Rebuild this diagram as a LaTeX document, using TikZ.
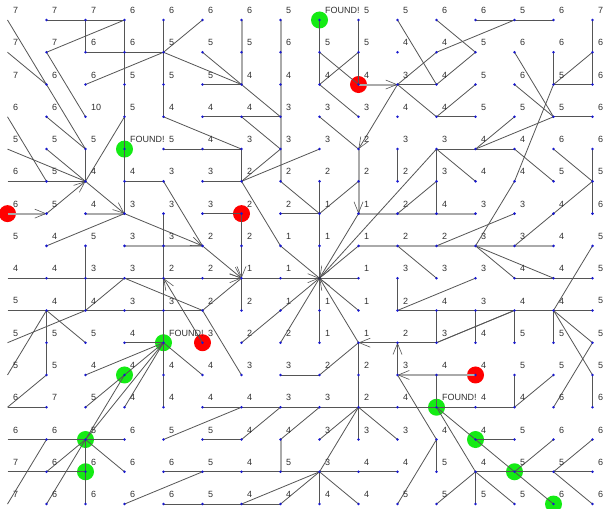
\documentclass[tikz,border=0pt]{standalone}
\usepackage{fontspec}
\setmainfont{Liberation Sans}
\usetikzlibrary{arrows.meta}
\definecolor{ln}{RGB}{85,85,85}
\definecolor{lt}{RGB}{170,170,170}
\definecolor{dotc}{RGB}{25,25,205}
\definecolor{redc}{RGB}{255,0,0}
\definecolor{grnc}{RGB}{20,235,20}
\definecolor{txt}{RGB}{50,50,50}
\tikzset{
  edge/.style={draw=ln, line width=0.8pt},
  lite/.style={draw=lt, line width=2pt},
  arr/.style={-{Straight Barb[length=11pt,width=9pt,line width=0.6pt,color=ln]}},
  lab/.style={anchor=west, inner sep=0pt, xshift=5.5pt, yshift=9.5pt, text=txt, font=\fontsize{9}{10}\selectfont},
}
\begin{document}
\begin{tikzpicture}[x=1pt,y=-1pt]
\useasboundingbox (0,0) rectangle (609,508);
\clip (0,0) rectangle (609,508);
\fill[white] (0,0) rectangle (609,508);
\foreach \c in {0,...,15}{\foreach \r in {0,...,15}{
  \coordinate (p\c-\r) at ({7.5+39*\c},{20+32.27*\r});}}
% circles
\foreach \p in {p8-0,p3-4,p4-10,p3-11,p2-13,p2-14,p11-12,p12-13,p13-14,p14-15}
  \fill[grnc] (\p) circle (8.5pt);
\foreach \p in {p9-2,p0-6,p6-6,p5-10,p12-11}
  \fill[redc] (\p) circle (8.5pt);
% light thick lines
\draw[lite] (p6-0) -- (p6-2);
\draw[lite] (p7-0) -- (p7-5);
\draw[lite] (p2-6) -- (p3-6);
\draw[lite] (p3-7) -- (p5-7);
\draw[lite] (p9-6) -- (p12-6);
\draw[lite] (p9-7) -- (p14-7);
\draw[lite] (p7-13) -- (p7-14);
\draw[lite,arr] (p9-2) -- (p10-2);
\draw[lite,arr] (p9-4) -- (p9-6);
\draw[lite,arr] (p0-6) -- (p1-6);
\draw[lite,arr] (p12-11) -- (p10-11);
% top left
\draw[edge] (p1-0) -- (p3-0);
\draw[edge] (p2-0) -- (p2-1);
\draw[edge] (p2-1) -- (p4-1);
\draw[edge] (p3-0) -- (p3-6);
\draw[edge] (p1-1) -- (p3-0);
\draw[edge] (p4-1) -- (p5-0);
\draw[edge] (p4-0) -- (p4-3);
\draw[edge] (p4-1) -- (p6-2);
\draw[edge] (p2-2) -- (p4-1);
\draw[edge] (p1-1) -- (p2-3);
\draw[edge] (p0-0) -- (p2-4);
\draw[edge] (p0-1) -- (p1-2);
\draw[edge] (p0-3) -- (p1-5);
\draw[edge] (p1-3) -- (p2-4);
\draw[edge] (p3-3) -- (p2-5);
\draw[edge] (p4-3) -- (p6-4);
\draw[edge] (p4-4) -- (p6-4);
% top middle
\draw[edge] (p5-1) -- (p6-2);
\draw[edge] (p5-2) -- (p6-2);
\draw[edge] (p6-2) -- (p7-3);
\draw[edge] (p5-3) -- (p7-3);
\draw[edge] (p6-3) -- (p7-4);
\draw[edge] (p6-4) -- (p6-5);
\draw[edge] (p7-4) -- (p6-5);
\draw[edge] (p8-4) -- (p6-5);
\draw[edge] (p8-0) -- (p8-2);
\draw[edge] (p8-1) -- (p9-2);
\draw[edge] (p8-2) -- (p9-1);
\draw[edge] (p9-0) -- (p9-2);
\draw[edge] (p8-2) -- (p9-3);
\draw[edge] (p8-3) -- (p9-4);
\draw[edge,arr] (p10-2) -- (p9-4);
% top right
\draw[edge] (p12-0) -- (p14-0);
\draw[edge] (p11-1) -- (p13-0);
\draw[edge] (p11-0) -- (p12-1);
\draw[edge] (p12-1) -- (p11-2);
\draw[edge] (p10-0) -- (p11-2);
\draw[edge] (p10-2) -- (p11-2);
\draw[edge] (p10-2) -- (p11-1);
\draw[edge] (p10-2) -- (p11-3);
\draw[edge] (p11-3) -- (p12-3);
\draw[edge] (p11-3) -- (p12-2);
\draw[edge] (p13-1) -- (p14-3);
\draw[edge] (p13-2) -- (p14-3);
\draw[edge] (p14-3) -- (p15-3);
\draw[edge] (p14-1) -- (p14-2);
\draw[edge] (p14-2) -- (p15-2);
\draw[edge] (p14-2) -- (p15-1);
\draw[edge] (p15-0) -- (p15-2);
\draw[edge] (p14-2) -- (p13-5);
\draw[edge] (p13-5) -- (p12-7);
\draw[edge] (p11-4) -- (p13-4);
\draw[edge] (p12-4) -- (p13-3);
\draw[edge] (p12-4) -- (p14-3);
\draw[edge] (p13-4) -- (p14-5);
\draw[edge] (p14-4) -- (p15-5);
\draw[edge] (p15-4) -- (p15-6);
\draw[edge] (p11-4) -- (p11-6);
\draw[edge] (p11-4) -- (p12-5);
\draw[edge] (p10-4) -- (p10-5);
% middle left
\draw[edge] (p0-5) -- (p2-5);
\draw[edge] (p2-4) -- (p2-5);
\draw[edge] (p0-4) -- (p2-5);
\draw[edge] (p1-4) -- (p2-5);
\draw[edge,arr] (p1-6) -- (p2-5);
\draw[edge,arr] (p2-5) -- (p3-6);
\draw[edge] (p1-7) -- (p3-6);
\draw[edge] (p3-5) -- (p4-5);
\draw[edge] (p4-5) -- (p5-7);
\draw[edge,arr] (p3-6) -- (p5-7);
\draw[edge,arr] (p5-7) -- (p6-8);
\draw[edge] (p4-6) -- (p4-12);
\draw[edge] (p2-7) -- (p2-9);
\draw[edge] (p0-8) -- (p4-8);
\draw[edge,arr] (p4-8) -- (p6-8);
\draw[edge,arr] (p6-8) -- (p8-8);
\draw[edge] (p8-8) -- (p9-8);
\draw[edge] (p0-9) -- (p5-9);
\draw[edge] (p3-8) -- (p2-9);
\draw[edge] (p3-8) -- (p5-9);
\draw[edge] (p5-9) -- (p6-8);
\draw[edge] (p5-9) -- (p6-11);
\draw[edge,arr] (p5-10) -- (p4-8);
\draw[edge] (p1-9) -- (p1-11);
\draw[edge] (p1-9) -- (p0-11);
\draw[edge] (p1-9) -- (p2-10);
\draw[edge] (p2-9) -- (p0-10);
% middle
\draw[edge] (p5-5) -- (p6-5);
\draw[edge] (p6-5) -- (p7-7);
\draw[edge] (p7-7) -- (p8-8);
\draw[edge] (p7-5) -- (p8-6);
\draw[edge] (p8-5) -- (p8-10);
\draw[edge] (p8-6) -- (p9-5);
\draw[edge] (p7-6) -- (p8-6);
\draw[edge] (p10-6) -- (p11-5);
\draw[edge] (p8-8) -- (p11-4);
\draw[edge] (p8-8) -- (p9-7);
\draw[edge,arr] (p9-6) -- (p8-8);
\draw[edge] (p10-7) -- (p11-8);
\draw[edge] (p10-8) -- (p10-9);
\draw[edge] (p10-9) -- (p12-8);
\draw[edge] (p8-8) -- (p9-9);
\draw[edge] (p8-8) -- (p6-10);
\draw[edge] (p8-8) -- (p7-10);
\draw[edge,arr] (p9-10) -- (p8-8);
\draw[edge] (p5-6) -- (p6-6);
\draw[edge,arr] (p6-6) -- (p6-8);
\draw[edge] (p6-8) -- (p6-9);
% middle right
\draw[edge] (p11-7) -- (p13-6);
\draw[edge] (p12-7) -- (p13-8);
\draw[edge] (p12-7) -- (p14-8);
\draw[edge] (p13-8) -- (p15-8);
\draw[edge] (p15-5) -- (p13-7);
\draw[edge] (p15-7) -- (p14-9);
\draw[edge] (p10-9) -- (p15-9);
\draw[edge] (p11-9) -- (p11-10);
\draw[edge] (p12-9) -- (p12-10);
\draw[edge] (p13-9) -- (p13-10);
\draw[edge] (p14-9) -- (p14-10);
\draw[edge] (p13-9) -- (p11-10);
\draw[edge] (p14-9) -- (p15-10);
\draw[edge] (p14-9) -- (p15-11);
\draw[edge] (p15-10) -- (p14-12);
\draw[edge] (p15-11) -- (p15-12);
% bottom left
\draw[edge] (p3-10) -- (p4-10);
\draw[edge] (p4-10) -- (p2-11);
\draw[edge] (p4-10) -- (p3-11);
\draw[edge] (p4-10) -- (p3-12);
\draw[edge] (p4-10) -- (p2-13);
\draw[edge] (p4-10) -- (p5-11);
\draw[edge] (p3-11) -- (p2-12);
\draw[edge] (p3-11) -- (p2-13);
\draw[edge] (p1-11) -- (p0-12);
\draw[edge] (p0-12) -- (p1-12);
\draw[edge] (p0-13) -- (p3-13);
\draw[edge] (p2-13) -- (p2-15);
\draw[edge] (p2-13) -- (p1-14);
\draw[edge] (p2-13) -- (p1-15);
\draw[edge] (p2-13) -- (p3-14);
\draw[edge] (p0-14) -- (p2-14);
\draw[edge] (p1-13) -- (p0-15);
\draw[edge] (p4-13) -- (p6-12);
\draw[edge] (p3-15) -- (p5-14);
\draw[edge] (p4-15) -- (p7-15);
% bottom middle
\draw[edge] (p9-10) -- (p9-12);
\draw[edge] (p9-10) -- (p8-11);
\draw[edge] (p7-11) -- (p8-11);
\draw[edge] (p5-12) -- (p13-12);
\draw[edge] (p6-13) -- (p7-12);
\draw[edge] (p5-13) -- (p6-13);
\draw[edge] (p7-13) -- (p8-12);
\draw[edge] (p8-13) -- (p9-12);
\draw[edge] (p9-12) -- (p9-13);
\draw[edge] (p9-12) -- (p10-13);
\draw[edge] (p9-12) -- (p8-14);
\draw[edge] (p4-14) -- (p10-14);
\draw[edge] (p8-14) -- (p8-15);
\draw[edge] (p8-14) -- (p6-15);
\draw[edge] (p8-14) -- (p7-15);
\draw[edge] (p8-14) -- (p9-15);
\draw[edge,arr] (p10-11) -- (p10-10);
\draw[edge,arr] (p10-10) -- (p9-10);
\draw[edge] (p10-10) -- (p11-10);
% bottom right
\draw[edge] (p11-10) -- (p13-9);
\draw[edge] (p11-11) -- (p11-12);
\draw[edge] (p13-11) -- (p13-12);
\draw[edge] (p13-12) -- (p14-11);
\draw[edge] (p11-12) -- (p14-15);
\draw[edge] (p11-12) -- (p12-14);
\draw[edge] (p10-11) -- (p11-13);
\draw[edge] (p11-13) -- (p11-14);
\draw[edge] (p11-13) -- (p10-15);
\draw[edge] (p12-13) -- (p13-13);
\draw[edge] (p13-14) -- (p14-13);
\draw[edge] (p12-14) -- (p15-14);
\draw[edge] (p14-14) -- (p15-13);
\draw[edge] (p14-14) -- (p15-15);
\draw[edge] (p12-14) -- (p11-15);
\draw[edge] (p12-14) -- (p12-15);
\draw[edge] (p12-14) -- (p13-15);
% dots
\foreach \c in {1,...,15}{\foreach \r in {0,...,15}{
  \fill[dotc] (p\c-\r) circle (1.4pt);}}
\fill[black!80] (p8-8) circle (1.5pt);
% labels
\foreach \row [count=\r from 0] in {
{7,7,7,6,6,6,6,5,FOUND!,5,5,6,6,5,6,7},
{7,7,6,6,5,5,5,6,5,5,4,4,5,6,6,6},
{7,6,6,5,5,5,4,4,4,4,3,4,5,6,5,6},
{6,6,10,5,4,4,4,3,3,3,4,4,5,5,5,6},
{5,5,5,FOUND!,5,4,3,3,3,2,3,3,4,4,6,6},
{6,5,4,4,3,3,2,2,2,2,2,3,4,4,5,5},
{6,5,4,3,3,3,2,2,1,1,2,4,3,3,4,6},
{5,4,5,3,3,2,2,1,1,1,2,2,3,3,4,5},
{4,4,3,3,2,2,1,1,{},1,3,3,3,4,4,5},
{5,4,4,3,3,2,2,1,1,1,2,4,3,4,4,5},
{5,5,5,4,FOUND!,3,2,2,1,1,2,3,4,5,5,5},
{5,5,4,4,4,4,3,3,2,2,3,4,4,5,5,5},
{6,7,5,4,4,4,4,3,3,2,4,FOUND!,4,4,6,6},
{6,6,5,6,5,5,4,4,3,3,3,4,4,5,6,6},
{7,6,6,6,6,5,4,5,3,4,4,5,4,5,5,6},
{7,6,6,6,6,5,4,4,4,4,5,5,5,5,6,6}}{
  \foreach \v [count=\c from 0] in \row {
    \node[lab] (l\c-\r) at (p\c-\r) {\v};
  }
}
\end{tikzpicture}
\end{document}
